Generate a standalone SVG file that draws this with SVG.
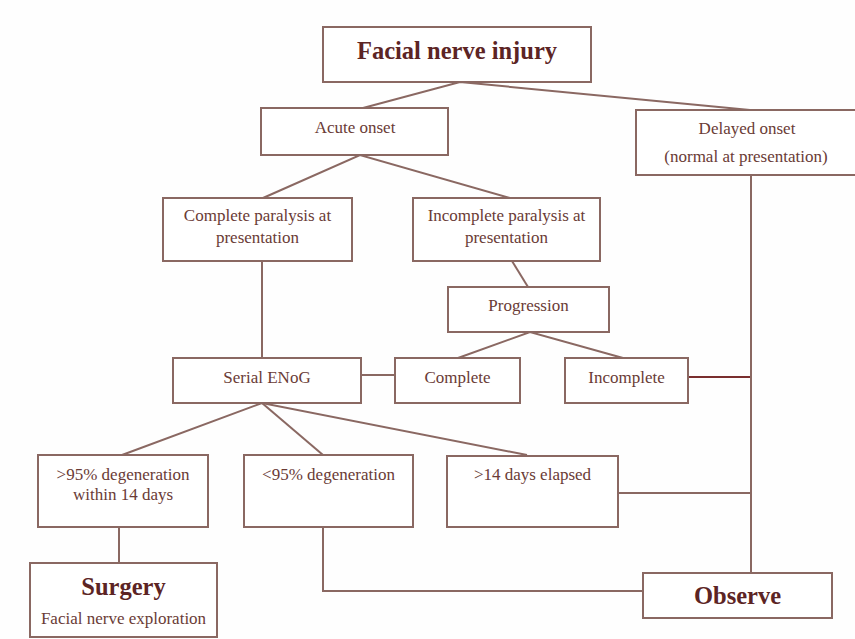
<svg xmlns="http://www.w3.org/2000/svg" width="855" height="639" viewBox="0 0 855 639">
<style>
.box{fill:#fff;stroke:#8a6862;stroke-width:2}
.ln{fill:none;stroke:#8a6862;stroke-width:2}
.dk{stroke:#7a2e2e}
.t{font-family:"Liberation Serif","Times New Roman",serif;font-size:17px;fill:#6a3b36;text-anchor:middle}
.b{font-family:"Liberation Serif","Times New Roman",serif;font-size:24.5px;font-weight:bold;fill:#5c2424;text-anchor:middle}
</style>
<rect width="855" height="639" fill="#fefefe"/>
<g id="connectors">
<polyline class="ln" points="363,108 460,82 750,110"/>
<polyline class="ln" points="263,198 360,155 510,198"/>
<line class="ln" x1="262" y1="261" x2="262" y2="358"/>
<line class="ln" x1="512" y1="261" x2="528" y2="287"/>
<polyline class="ln" points="458,358 530,332 623,358"/>
<line class="ln" x1="361" y1="375" x2="395" y2="375" stroke-width="3"/>
<line class="ln dk" x1="688" y1="377" x2="751" y2="377"/>
<line class="ln" x1="751" y1="176" x2="751" y2="573"/>
<polyline class="ln" points="122,455 262,403 527,455"/>
<line class="ln" x1="262" y1="403" x2="323" y2="455"/>
<line class="ln" x1="119" y1="527" x2="119" y2="563"/>
<polyline class="ln" points="323,527 323,591 643,591"/>
<line class="ln" x1="618" y1="493" x2="751" y2="493"/>
</g>
<g id="n-injury"><rect class="box" x="323" y="27" width="268" height="55"/><text class="b" x="457" y="59">Facial nerve injury</text></g>
<g id="n-acute"><rect class="box" x="261" y="108" width="187" height="47"/><text class="t" x="355" y="133">Acute onset</text></g>
<g id="n-delayed"><rect class="box" x="636" y="110" width="225" height="65"/><text class="t" x="747" y="134">Delayed onset</text><text class="t" x="746" y="162">(normal at presentation)</text></g>
<g id="n-complete-paralysis"><rect class="box" x="163" y="198" width="189" height="63"/><text class="t" x="257.5" y="221">Complete paralysis at</text><text class="t" x="257.5" y="243">presentation</text></g>
<g id="n-incomplete-paralysis"><rect class="box" x="413" y="198" width="187" height="63"/><text class="t" x="506.5" y="221">Incomplete paralysis at</text><text class="t" x="506.5" y="243">presentation</text></g>
<g id="n-progression"><rect class="box" x="448" y="287" width="161" height="45"/><text class="t" x="528.5" y="311">Progression</text></g>
<g id="n-serial"><rect class="box" x="173" y="358" width="188" height="45"/><text class="t" x="267" y="383">Serial ENoG</text></g>
<g id="n-complete"><rect class="box" x="395" y="358" width="125" height="45"/><text class="t" x="457.5" y="383">Complete</text></g>
<g id="n-incomplete"><rect class="box" x="565" y="358" width="123" height="45"/><text class="t" x="626.5" y="383">Incomplete</text></g>
<g id="n-gt95"><rect class="box" x="38" y="455" width="170" height="72"/><text class="t" x="123" y="480">&gt;95% degeneration</text><text class="t" x="123" y="500">within 14 days</text></g>
<g id="n-lt95"><rect class="box" x="244" y="455" width="169" height="72"/><text class="t" x="328.5" y="480">&lt;95% degeneration</text></g>
<g id="n-14days"><rect class="box" x="447" y="456" width="171" height="71"/><text class="t" x="532.5" y="480">&gt;14 days elapsed</text></g>
<g id="n-surgery"><rect class="box" x="30" y="563" width="187" height="74"/><text class="b" x="123.5" y="595">Surgery</text><text class="t" x="123.5" y="624">Facial nerve exploration</text></g>
<g id="n-observe"><rect class="box" x="643" y="573" width="189" height="45"/><text class="b" x="737.5" y="604">Observe</text></g>
</svg>
